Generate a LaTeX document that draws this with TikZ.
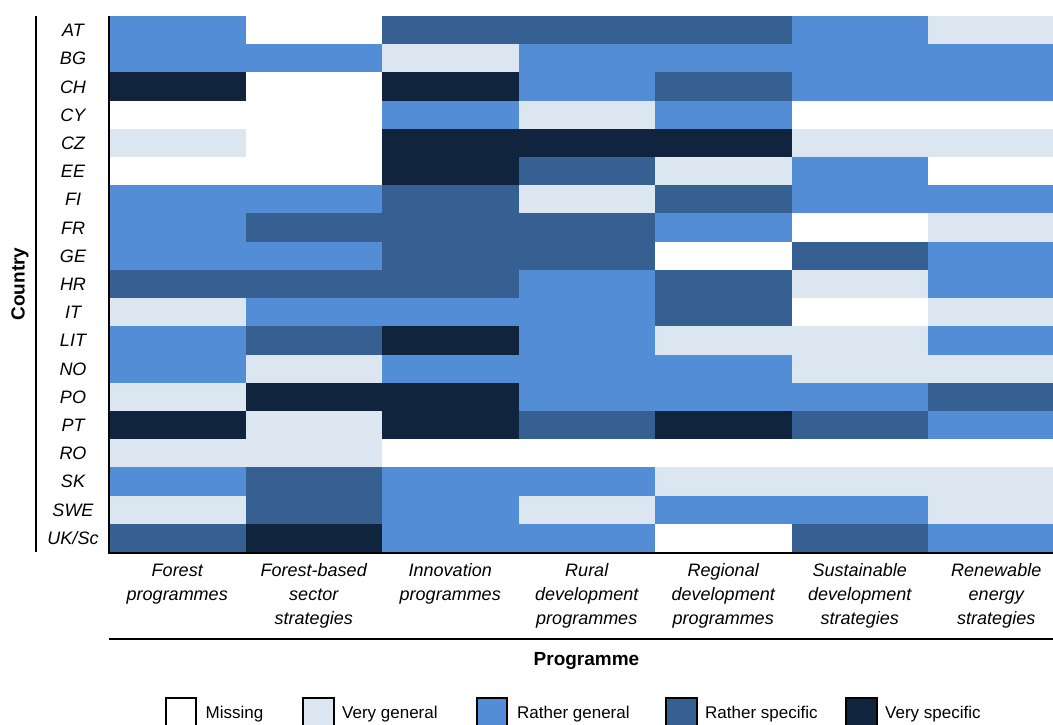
\documentclass[tikz,border=0pt]{standalone}
\usepackage{fontspec}
\setmainfont{Liberation Sans}
% specificity levels: missing, very general, rather general, rather specific, very specific
\definecolor{lvl0}{HTML}{FFFFFF}
\definecolor{lvl1}{HTML}{DCE6F1}
\definecolor{lvl2}{HTML}{538DD5}
\definecolor{lvl3}{HTML}{366092}
\definecolor{lvl4}{HTML}{10243E}
\begin{document}
\begin{tikzpicture}[x=1pt,y=-1pt,
  country/.style={font=\fontsize{18}{24}\selectfont\itshape, anchor=base, inner sep=0pt},
  progname/.style={font=\fontsize{18}{24}\selectfont\itshape, align=center, anchor=north, inner sep=0pt},
  axistitle/.style={font=\fontsize{19}{24}\selectfont\bfseries, inner sep=0pt, anchor=base},
  keybox/.style={draw=black, line width=2.5pt},
  keytext/.style={font=\fontsize{17}{20}\selectfont, anchor=base west, inner sep=0pt},
  axisline/.style={line width=2pt, draw=black}]
\useasboundingbox (0,0) rectangle (1053,725);
\begin{scope}
\clip (0,0) rectangle (1053,725);

% heat map cells, one row per country
\foreach \lab/\vals [count=\r from 0] in {
  AT/{2,0,3,3,3,2,1},
  BG/{2,2,1,2,2,2,2},
  CH/{4,0,4,2,3,2,2},
  CY/{0,0,2,1,2,0,0},
  CZ/{1,0,4,4,4,1,1},
  EE/{0,0,4,3,1,2,0},
  FI/{2,2,3,1,3,2,2},
  FR/{2,3,3,3,2,0,1},
  GE/{2,2,3,3,0,3,2},
  HR/{3,3,3,2,3,1,2},
  IT/{1,2,2,2,3,0,1},
  LIT/{2,3,4,2,1,1,2},
  NO/{2,1,2,2,2,1,1},
  PO/{1,4,4,2,2,2,3},
  PT/{4,1,4,3,4,3,2},
  RO/{1,1,0,0,0,0,0},
  SK/{2,3,2,2,1,1,1},
  SWE/{1,3,2,1,2,2,1},
  {UK/Sc}/{3,4,2,2,0,3,2}}{
  \pgfmathsetmacro\ytop{16+\r*28.21}
  \foreach \v [count=\c from 0] in \vals {
    \fill[lvl\v] (109+\c*136.5,\ytop) rectangle ++(137,28.7);
  }
  \node[country] (row\r) at (73,\ytop+20.6) {\lab};
}

% axes
\draw[axisline] (36,16) -- (36,552);
\draw[axisline] (109,16) -- (109,553) -- (1053,553);
\draw[axisline] (109,639) -- (1053,639);

% programme names
\node[progname] (prog1) at (177.25,562) {\rule{0pt}{14pt}Forest\\programmes};
\node[progname] (prog2) at (313.75,562) {\rule{0pt}{14pt}Forest-based\\sector\\strategies};
\node[progname] (prog3) at (450.25,562) {\rule{0pt}{14pt}Innovation\\programmes};
\node[progname] (prog4) at (586.75,562) {\rule{0pt}{14pt}Rural\\development\\programmes};
\node[progname] (prog5) at (723.25,562) {\rule{0pt}{14pt}Regional\\development\\programmes};
\node[progname] (prog6) at (859.75,562) {\rule{0pt}{14pt}Sustainable\\development\\strategies};
\node[progname] (prog7) at (996.25,562) {\rule{0pt}{14pt}Renewable\\energy\\strategies};

% axis titles
\node[axistitle] (xtitle) at (586.5,665) {Programme};
\node[axistitle, rotate=90] (ytitle) at (24.5,284) {Country};

% key
\draw[keybox, fill=lvl0] (166,698) rectangle (196,740);
\draw[keybox, fill=lvl1] (303,698) rectangle (334,740);
\draw[keybox, fill=lvl2] (477,698) rectangle (507,740);
\draw[keybox, fill=lvl3] (666,698) rectangle (697,740);
\draw[keybox, fill=lvl4] (846,698) rectangle (877,740);
\node[keytext] (key0) at (205.5,718) {Missing};
\node[keytext] (key1) at (342,718) {Very general};
\node[keytext] (key2) at (517,718) {Rather general};
\node[keytext] (key3) at (705,718) {Rather specific};
\node[keytext] (key4) at (885,718) {Very specific};
\end{scope}
\end{tikzpicture}
\end{document}
